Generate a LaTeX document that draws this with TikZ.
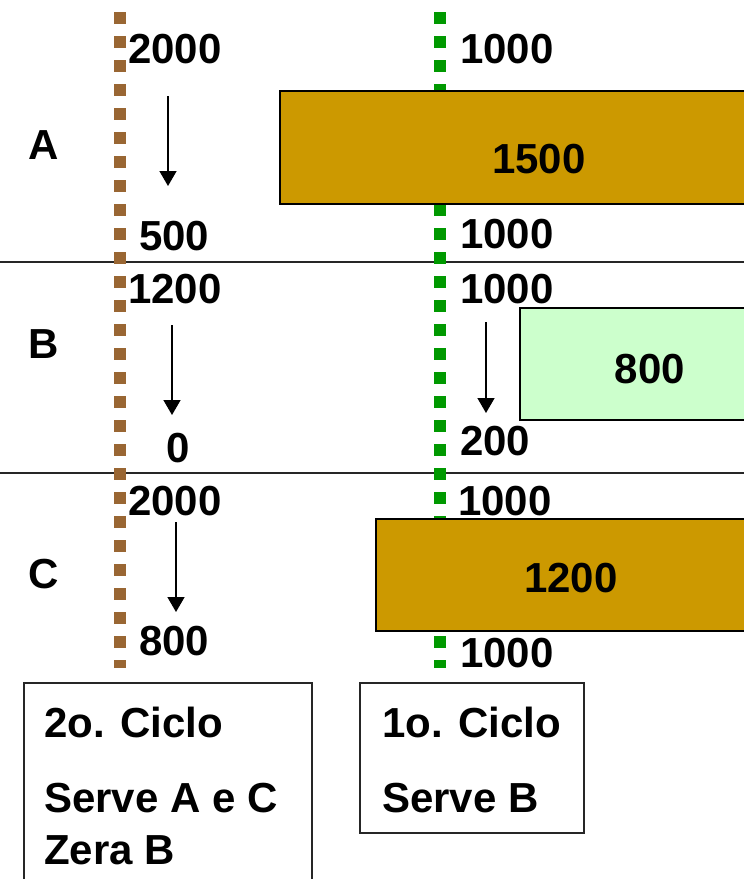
\documentclass[tikz,border=0pt]{standalone}
\usepackage{fontspec}
\setmainfont{Liberation Sans}
\usetikzlibrary{arrows.meta}
\definecolor{brownline}{HTML}{996633}
\definecolor{greenline}{HTML}{009900}
\definecolor{goldfill}{HTML}{CC9900}
\definecolor{mintfill}{HTML}{CCFFCC}
\tikzset{
  lbl/.style={font=\fontsize{42}{48}\selectfont\bfseries, inner sep=0pt, anchor=base west},
  clbl/.style={lbl, anchor=base},
  sepline/.style={line width=1.5pt, draw=black!85},
  queue/.style={line width=12pt, dash pattern=on 12pt off 12pt},
  bar/.style={draw=black, line width=2pt},
  flow/.style={line width=1.5pt, -{Triangle[width=17pt,length=15pt]}},
  panel/.style={draw=black!85, line width=2pt}
}
\begin{document}
\begin{tikzpicture}[x=1pt,y=-1pt]
\useasboundingbox (0,0) rectangle (744,879);
\clip (0,0) rectangle (744,879);

% row separators
\coordinate (s1l) at (0,262);   \coordinate (s1r) at (744,262);
\coordinate (s2l) at (0,473);   \coordinate (s2r) at (744,473);
\draw[sepline] (s1l) -- (s1r);
\draw[sepline] (s2l) -- (s2r);

% the two dotted queues
\coordinate (qbt) at (120,12);  \coordinate (qbb) at (120,668);
\coordinate (qgt) at (440,12);  \coordinate (qgb) at (440,668);
\draw[queue, brownline] (qbt) -- (qbb);
\draw[queue, greenline] (qgt) -- (qgb);

% service bars
\draw[bar, fill=goldfill] (280,91) rectangle (800,204);
\draw[bar, fill=mintfill] (520,308) rectangle (800,420);
\draw[bar, fill=goldfill] (376,519) rectangle (800,631);
\node[clbl] (barA) at (539,173) {1500};
\node[clbl] (barB) at (650,383) {800};
\node[clbl] (barC) at (571,592) {1200};

% row names
\node[lbl] (rowA) at (28,159) {A};
\node[lbl] (rowB) at (28,358) {B};
\node[lbl] (rowC) at (28,588) {C};

% row A
\node[lbl] (a1) at (128,63) {2000};
\node[lbl] (a2) at (139,250) {500};
\node[lbl] (a3) at (460,63) {1000};
\node[lbl] (a4) at (460,248) {1000};
\coordinate (fa1) at (168,96);  \coordinate (fa2) at (168,186);
\draw[flow] (fa1) -- (fa2);

% row B
\node[lbl] (b1) at (128,303) {1200};
\node[lbl] (b2) at (166,462) {0};
\node[lbl] (b3) at (460,303) {1000};
\node[lbl] (b4) at (460,455) {200};
\coordinate (fb1) at (172,325); \coordinate (fb2) at (172,415);
\draw[flow] (fb1) -- (fb2);
\coordinate (fg1) at (486,322); \coordinate (fg2) at (486,413);
\draw[flow] (fg1) -- (fg2);

% row C
\node[lbl] (c1) at (128,515) {2000};
\node[lbl] (c2) at (139,655) {800};
\node[lbl] (c3) at (458,515) {1000};
\node[lbl] (c4) at (460,667) {1000};
\coordinate (fc1) at (176,522); \coordinate (fc2) at (176,612);
\draw[flow] (fc1) -- (fc2);

% cycle notes
\draw[panel] (24,683) rectangle (312,900);
\draw[panel] (360,683) rectangle (584,833);
\node[lbl] (n1) at (44,737) {2o. Ciclo};
\node[lbl] (n2) at (44,812) {Serve A e C};
\node[lbl] (n3) at (44,864) {Zera B};
\node[lbl] (n4) at (382,737) {1o. Ciclo};
\node[lbl] (n5) at (382,812) {Serve B};
\end{tikzpicture}
\end{document}
